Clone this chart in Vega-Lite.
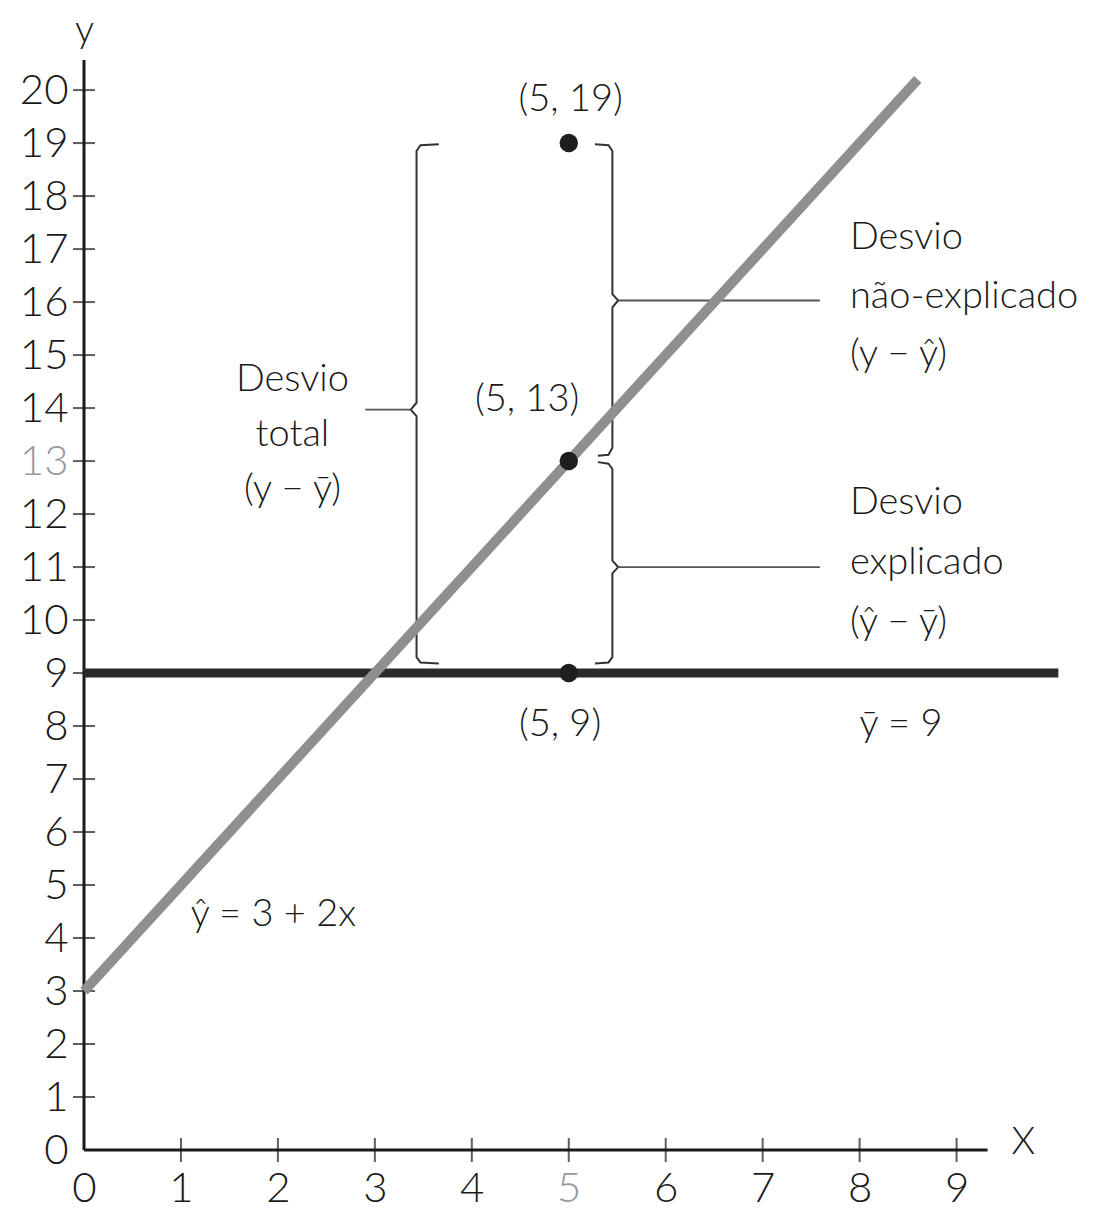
{
  "$schema": "https://vega.github.io/schema/vega-lite/v6.json",
  "autosize": {"type": "none"},
  "width": 1018,
  "height": 1150,
  "padding": {"left": 84, "top": 0, "right": 11, "bottom": 61},
  "background": "white",
  "config": {"view": {"stroke": null}, "font": "Lato"},
  "datasets": {
    "axes": [
      {"x": 0, "y": 0, "x2": 9.32, "y2": 0},
      {"x": 0, "y": 0, "x2": 0, "y2": 20.57}
    ],
    "xt": [{"v": 1}, {"v": 2}, {"v": 3}, {"v": 4}, {"v": 5}, {"v": 6}, {"v": 7}, {"v": 8}, {"v": 9}],
    "yt": [{"v": 1}, {"v": 2}, {"v": 3}, {"v": 4}, {"v": 5}, {"v": 6}, {"v": 7}, {"v": 8}, {"v": 9}, {"v": 10},
           {"v": 11}, {"v": 12}, {"v": 13}, {"v": 14}, {"v": 15}, {"v": 16}, {"v": 17}, {"v": 18}, {"v": 19}, {"v": 20}],
    "mean": [{"x": 0, "y": 9}, {"x": 10.05, "y": 9}],
    "reg": [{"x": 0, "y": 3}, {"x": 8.6, "y": 20.2}],
    "points": [{"x": 5, "y": 19}, {"x": 5, "y": 13}, {"x": 5, "y": 9}],
    "braces": [
      {"id": "L", "o": 1, "x": 3.66, "y": 18.98},
      {"id": "L", "o": 2, "x": 3.47, "y": 18.96},
      {"id": "L", "o": 3, "x": 3.43, "y": 18.85},
      {"id": "L", "o": 4, "x": 3.43, "y": 14.1},
      {"id": "L", "o": 5, "x": 3.37, "y": 13.97},
      {"id": "L", "o": 6, "x": 3.43, "y": 13.85},
      {"id": "L", "o": 7, "x": 3.43, "y": 9.3},
      {"id": "L", "o": 8, "x": 3.47, "y": 9.2},
      {"id": "L", "o": 9, "x": 3.66, "y": 9.18},
      {"id": "R1", "o": 1, "x": 5.27, "y": 18.98},
      {"id": "R1", "o": 2, "x": 5.41, "y": 18.96},
      {"id": "R1", "o": 3, "x": 5.45, "y": 18.85},
      {"id": "R1", "o": 4, "x": 5.45, "y": 16.15},
      {"id": "R1", "o": 5, "x": 5.51, "y": 16.03},
      {"id": "R1", "o": 6, "x": 5.45, "y": 15.9},
      {"id": "R1", "o": 7, "x": 5.45, "y": 13.25},
      {"id": "R1", "o": 8, "x": 5.41, "y": 13.12},
      {"id": "R1", "o": 9, "x": 5.3, "y": 13.1},
      {"id": "R2", "o": 1, "x": 5.3, "y": 12.98},
      {"id": "R2", "o": 2, "x": 5.41, "y": 12.95},
      {"id": "R2", "o": 3, "x": 5.45, "y": 12.85},
      {"id": "R2", "o": 4, "x": 5.45, "y": 11.12},
      {"id": "R2", "o": 5, "x": 5.51, "y": 11.0},
      {"id": "R2", "o": 6, "x": 5.45, "y": 10.88},
      {"id": "R2", "o": 7, "x": 5.45, "y": 9.3},
      {"id": "R2", "o": 8, "x": 5.41, "y": 9.2},
      {"id": "R2", "o": 9, "x": 5.27, "y": 9.18}
    ],
    "connectors": [
      {"x": 2.9, "x2": 3.37, "y": 13.97},
      {"x": 5.51, "x2": 7.59, "y": 16.03},
      {"x": 5.51, "x2": 7.59, "y": 11.0}
    ],
    "ctext": [
      {"x": 5.02, "y": 19.81, "t": "(5, 19)"},
      {"x": 4.57, "y": 14.15, "t": "(5, 13)"},
      {"x": 4.91, "y": 8.02, "t": "(5, 9)"},
      {"x": 2.15, "y": 14.53, "t": "Desvio"},
      {"x": 2.15, "y": 13.49, "t": "total"},
      {"x": 2.15, "y": 12.45, "t": "(y − ȳ)"},
      {"x": 0.005, "y": 21.12, "t": "y"},
      {"x": 9.69, "y": 0.13, "t": "X"}
    ],
    "ltext": [
      {"x": 7.9, "y": 17.2, "t": "Desvio"},
      {"x": 7.9, "y": 16.1, "t": "não-explicado"},
      {"x": 7.9, "y": 15.0, "t": "(y − ŷ)"},
      {"x": 7.9, "y": 12.2, "t": "Desvio"},
      {"x": 7.9, "y": 11.08, "t": "explicado"},
      {"x": 7.9, "y": 9.94, "t": "(ŷ − ȳ)"},
      {"x": 8.0, "y": 8.02, "t": "ȳ = 9"},
      {"x": 1.1, "y": 4.43, "t": "ŷ = 3 + 2x"}
    ]
  },
  "layer": [
    {
      "data": {"name": "axes"},
      "mark": {"type": "rule", "color": "#1a1a1a", "strokeWidth": 3},
      "encoding": {
        "x": {
          "field": "x", "type": "quantitative",
          "scale": {"domain": [0, 10.5], "nice": false, "zero": false},
          "axis": {
            "title": null, "domain": false, "ticks": false, "tickSize": 0, "grid": false,
            "values": [0, 1, 2, 3, 4, 5, 6, 7, 8, 9], "format": "d", "labelFlush": false,
            "labelFontSize": 42, "labelFont": "Lato", "labelFontWeight": 300,
            "labelPadding": 18,
            "labelColor": {"expr": "datum.value == 5 ? '#999999' : '#1a1a1a'"}
          }
        },
        "x2": {"field": "x2"},
        "y": {
          "field": "y", "type": "quantitative",
          "scale": {"domain": [0, 21.7], "nice": false, "zero": false},
          "axis": {
            "title": null, "domain": false, "ticks": false, "tickSize": 0, "grid": false,
            "values": [0, 1, 2, 3, 4, 5, 6, 7, 8, 9, 10, 11, 12, 13, 14, 15, 16, 17, 18, 19, 20], "format": "d", "labelFlush": false,
            "labelFontSize": 42, "labelFont": "Lato", "labelFontWeight": 300,
            "labelPadding": 16,
            "labelColor": {"expr": "datum.value == 13 ? '#999999' : '#1a1a1a'"}
          }
        },
        "y2": {"field": "y2"}
      }
    },
    {
      "data": {"name": "xt"},
      "mark": {"type": "tick", "orient": "vertical", "size": 24, "thickness": 2, "color": "#1a1a1a"},
      "encoding": {
        "x": {"field": "v", "type": "quantitative"},
        "y": {"datum": 0, "type": "quantitative"}
      }
    },
    {
      "data": {"name": "yt"},
      "mark": {"type": "tick", "orient": "horizontal", "size": 22, "thickness": 2, "color": "#1a1a1a"},
      "encoding": {
        "y": {"field": "v", "type": "quantitative"},
        "x": {"datum": 0, "type": "quantitative"}
      }
    },
    {
      "data": {"name": "braces"},
      "mark": {"type": "line", "color": "#333333", "strokeWidth": 2},
      "encoding": {
        "x": {"field": "x", "type": "quantitative"},
        "y": {"field": "y", "type": "quantitative"},
        "detail": {"field": "id"},
        "order": {"field": "o"}
      }
    },
    {
      "data": {"name": "connectors"},
      "mark": {"type": "rule", "color": "#555555", "strokeWidth": 1.8},
      "encoding": {
        "x": {"field": "x", "type": "quantitative"},
        "x2": {"field": "x2"},
        "y": {"field": "y", "type": "quantitative"}
      }
    },
    {
      "data": {"name": "mean"},
      "mark": {"type": "line", "color": "#2b2b2b", "strokeWidth": 9},
      "encoding": {
        "x": {"field": "x", "type": "quantitative"},
        "y": {"field": "y", "type": "quantitative"}
      }
    },
    {
      "data": {"name": "reg"},
      "mark": {"type": "line", "color": "#8f8f8f", "strokeWidth": 10},
      "encoding": {
        "x": {"field": "x", "type": "quantitative"},
        "y": {"field": "y", "type": "quantitative"}
      }
    },
    {
      "data": {"name": "points"},
      "mark": {"type": "point", "filled": true, "color": "#1e1e1e", "size": 340, "opacity": 1},
      "encoding": {
        "x": {"field": "x", "type": "quantitative"},
        "y": {"field": "y", "type": "quantitative"}
      }
    },
    {
      "data": {"name": "ctext"},
      "mark": {"type": "text", "align": "center", "baseline": "middle", "fontSize": 38, "font": "Lato", "fontWeight": 300, "color": "#1a1a1a"},
      "encoding": {
        "x": {"field": "x", "type": "quantitative"},
        "y": {"field": "y", "type": "quantitative"},
        "text": {"field": "t"}
      }
    },
    {
      "data": {"name": "ltext"},
      "mark": {"type": "text", "align": "left", "baseline": "middle", "fontSize": 38, "font": "Lato", "fontWeight": 300, "color": "#1a1a1a"},
      "encoding": {
        "x": {"field": "x", "type": "quantitative"},
        "y": {"field": "y", "type": "quantitative"},
        "text": {"field": "t"}
      }
    }
  ]
}
